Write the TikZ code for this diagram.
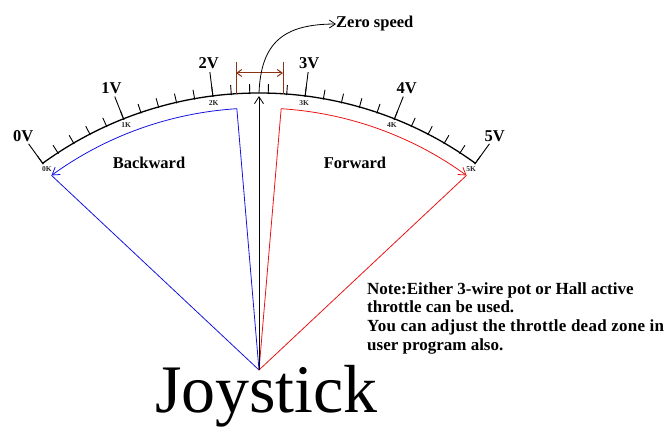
\documentclass[tikz,border=0pt]{standalone}
\usepackage{fontspec}
\setmainfont{Liberation Serif}
\newfontfamily\widenote[LetterSpace=1.6]{Liberation Serif}
\usetikzlibrary{arrows.meta,calc}
\definecolor{dz}{RGB}{140,50,20}
\definecolor{fwd}{RGB}{235,20,20}
\definecolor{bwd}{RGB}{20,20,225}
\begin{document}
\begin{tikzpicture}[x=1pt,y=1pt,
  vlbl/.style={font=\bfseries\fontsize{16.5}{18}\selectfont, inner sep=0pt},
  klbl/.style={font=\bfseries\fontsize{7.5}{8}\selectfont, inner sep=0pt, text=black!85},
  barb/.style={-{Straight Barb[length=7pt,width=9pt]}},
  scale arc/.style={line width=1.3pt},
  tick/.style={line width=0.9pt},
]
\useasboundingbox (0,0) rectangle (666,435);
\coordinate (P) at (259,65);
\begin{scope}[shift={(259,-26)}]
  % scale arc
  \draw[scale arc] (126:368) arc[start angle=126, end angle=54, radius=368];
  % minor ticks
  \foreach \i in {0,...,25} {
    \pgfmathsetmacro\a{126-2.88*\i}
    \draw[tick] (\a:367) -- (\a:377);
  }
  % major ticks and labels
  \foreach \n in {0,...,5} {
    \pgfmathsetmacro\a{126-14.4*\n}
    \draw[tick] (\a:367) -- (\a:392);
    \node[vlbl] (v\n) at (\a:401) {\n V};
    \node[klbl] (k\n) at (\a:361) {\n K};
  }
  \coordinate (B0) at (93.6:353);
  \coordinate (B1) at (126:353);
  \coordinate (F0) at (86.4:353);
  \coordinate (F1) at (54:353);
  \coordinate (top) at (90:365);
  \coordinate (arctop) at (90:368);
\end{scope}
% backward
\draw[bwd, line width=0.8pt] (P) -- (B0);
\draw[bwd, line width=0.8pt, barb] (B0) arc[start angle=93.6, end angle=126, radius=353];
\draw[bwd, line width=0.8pt] (P) -- (B1);
% forward
\draw[fwd, line width=0.8pt] (P) -- (F0);
\draw[fwd, line width=0.8pt, barb] (F0) arc[start angle=86.4, end angle=54, radius=353];
\draw[fwd, line width=0.8pt] (P) -- (F1);
% centre arrow
\draw[line width=0.8pt, barb] (P) -- (top);
% dead zone bracket
\coordinate (dzl) at (236,341);
\coordinate (dzr) at (283,341);
\draw[dz, line width=1pt] (dzl) -- ++(0,32) coordinate (dzlt);
\draw[dz, line width=1pt] (dzr) -- ++(0,32) coordinate (dzrt);
\draw[dz, line width=1pt, {Straight Barb[length=5pt,width=7pt]}-{Straight Barb[length=5pt,width=7pt]}] ($(dzl)+(0,21)$) -- ($(dzr)+(0,21)$);
% zero speed
\node[vlbl, anchor=base west] (zs) at (336,407) {Zero speed};
\draw[line width=0.8pt, -{Straight Barb[length=6pt,width=8pt]}] (arctop) .. controls (261,392) and (283,411) .. (zs.west);
% direction labels
\node[vlbl] (bw) at (149,272.5) {Backward};
\node[vlbl] (fw) at (355,272.5) {Forward};
% note
\node[font=\bfseries\fontsize{17}{18.7}\selectfont, inner sep=0pt, align=left, anchor=north west] (note) at (367,152.8)
  {Note:Either 3-wire pot or Hall active\\throttle can be used.\\{\widenote\bfseries You can adjust the throttle dead zone in}\\user program also.};
% title
\node[font=\fontsize{68}{70}\selectfont, inner sep=0pt, anchor=base] (joy) at (266.5,22) {Joystick};
\end{tikzpicture}
\end{document}
